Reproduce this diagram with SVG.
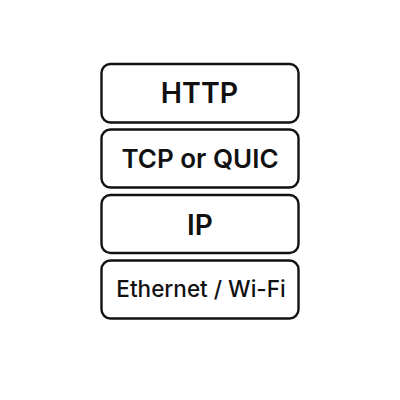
<svg xmlns="http://www.w3.org/2000/svg" width="400" height="400" viewBox="0 0 400 400">
<style>
.box{fill:#fff;stroke:#111;stroke-width:2.4}
.lbl{font-family:Inter,"Liberation Sans",Arial,sans-serif;font-weight:600;fill:#111;text-anchor:middle}
.med{font-weight:500}
</style>
<rect width="400" height="400" fill="#fff"/>
<g id="http"><rect class="box" x="101.5" y="64" width="197" height="58.5" rx="9"/><text class="lbl" x="199.5" y="103.3" font-size="28.5">HTTP</text></g>
<g id="transport"><rect class="box" x="101.5" y="129.5" width="197" height="58" rx="9"/><text class="lbl" x="200" y="167.7" font-size="26">TCP or QUIC</text></g>
<g id="ip"><rect class="box" x="101.5" y="195" width="197" height="58" rx="9"/><text class="lbl" x="200" y="235" font-size="28">IP</text></g>
<g id="link"><rect class="box" x="101.5" y="260.5" width="197" height="58" rx="9"/><text class="lbl med" x="201" y="297" font-size="22.5">Ethernet / Wi-Fi</text></g>
<g id="connectors"/>
</svg>
